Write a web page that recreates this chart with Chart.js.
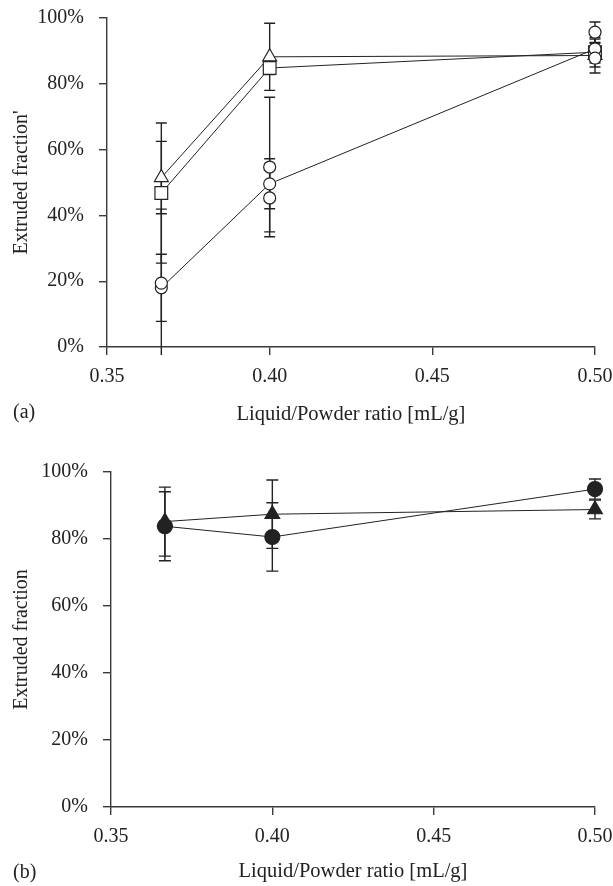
<!DOCTYPE html>
<html>
<head>
<meta charset="utf-8">
<script src="https://cdn.jsdelivr.net/npm/chart.js@4.4.1/dist/chart.umd.min.js"></script>
<style>
  html,body{margin:0;padding:0;background:#fff;}
  #wrapA{position:absolute;left:0;top:0;width:613px;height:440px;}
  #wrapB{position:absolute;left:0;top:440px;width:613px;height:446px;}
</style>
</head>
<body>
<div id="wrapA"><canvas id="chartA" width="613" height="440"></canvas></div>
<div id="wrapB"><canvas id="chartB" width="613" height="446"></canvas></div>
<script>
// ── data: panel (a) ───────────────────────────────────────────────
const xA        = [0.3667, 0.40, 0.50];
const xTicks    = [0.35, 0.40, 0.45, 0.50];
const yTicks    = [0, 20, 40, 60, 80, 100];
const triA      = [51.5, 88.2, 88.6];
const triAErr   = [11.0, 10.2, 2.3];
const sqA       = [46.8, 84.8, 89.6];
const sqAErr    = [21.3, 2.0, 4.5];
const circA     = [18.0, 49.6, 90.6];
const circAErr  = [10.2, 7.6, 3.0];
const circA2    = [19.4, 54.7, 95.7];
const circA2Err = [22.5, 21.2, 3.1];
const circA3    = [null, 45.3, 87.8];
const circA3Err = [null, 10.3, 4.5];

// ── data: panel (b) ───────────────────────────────────────────────
const xB        = [0.3667, 0.40, 0.50];
const circB     = [83.8, 80.6, 94.9];
const circBErr  = [10.3, 10.2, 3.0];
const triB      = [85.2, 87.4, 88.8];
const triBErr   = [10.3, 10.2, 2.8];

const INK='#222', AXIS='#3a3a3a', FONT='"Liberation Serif","DejaVu Serif",serif';

const pts=(xs,ys)=>xs.map((x,i)=>({x,y:ys[i]})).filter(p=>p.y!==null);

// error bars drawn under the markers
const errorBars={
  id:'errorBars',
  beforeDatasetsDraw(chart){
    const {ctx,scales:{x,y}}=chart;
    const y0=y.getPixelForValue(0);
    ctx.save();
    ctx.strokeStyle=INK;ctx.lineWidth=1.4;
    chart.data.datasets.forEach(ds=>{
      if(!ds.err) return;
      ds.xs.forEach((xv,i)=>{
        const v=ds.ys[i],e=ds.err[i];
        if(v===null||e===null) return;
        const px=x.getPixelForValue(xv);
        const lo=v-e,hi=v+e;
        const pLo=lo<0?y0+8:y.getPixelForValue(lo),pHi=y.getPixelForValue(hi);
        const cw=ds.capW||5.5;
        ctx.beginPath();
        ctx.moveTo(px,pLo);ctx.lineTo(px,pHi);
        ctx.moveTo(px-cw,pHi);ctx.lineTo(px+cw,pHi);
        if(lo>=0){ctx.moveTo(px-cw,pLo);ctx.lineTo(px+cw,pLo);}
        ctx.stroke();
      });
    });
    ctx.restore();
  }
};

// panel tag "(a)" / "(b)"
const panelTag={
  id:'panelTag',
  afterDraw(chart,args,opts){
    const ctx=chart.ctx;
    ctx.save();
    ctx.font='20px '+FONT;ctx.fillStyle=INK;
    ctx.textAlign='left';ctx.textBaseline='middle';
    ctx.fillText(opts.text,opts.x,opts.y);
    ctx.restore();
  }
};

function series(xs,ys,err,style,r,fill,showLine,capW){
  return {data:pts(xs,ys),xs,ys,err,capW,showLine,
    borderColor:INK,borderWidth:1,
    pointStyle:style,pointRadius:r,pointHoverRadius:r,
    pointBackgroundColor:fill,pointBorderColor:INK,pointBorderWidth:1.2,
    clip:false,tension:0};
}

function makeOptions(yTitle,yWidth,xHeight,titlePad,pad,tag){
  return {
    responsive:false,animation:false,
    layout:{padding:pad},
    plugins:{legend:{display:false},tooltip:{enabled:false},panelTag:tag},
    scales:{
      x:{type:'linear',min:0.35,max:0.50,
        afterBuildTicks:s=>{s.ticks=xTicks.map(v=>({value:v}));},
        afterFit:s=>{s.height=xHeight;s.paddingLeft=0;s.paddingRight=0;},
        grid:{display:true,drawOnChartArea:false,drawTicks:true,tickLength:8,color:AXIS,lineWidth:1.4},
        border:{display:true,color:AXIS,width:1.4},
        ticks:{color:INK,font:{family:FONT,size:20},padding:10,maxRotation:0,callback:v=>v.toFixed(2)},
        title:{display:true,text:'Liquid/Powder ratio [mL/g]',color:INK,font:{family:FONT,size:20.5},padding:{top:0,bottom:titlePad}}
      },
      y:{min:0,max:100,
        afterBuildTicks:s=>{s.ticks=yTicks.map(v=>({value:v}));},
        afterFit:s=>{s.width=yWidth;s.paddingTop=0;s.paddingBottom=0;},
        grid:{display:true,drawOnChartArea:false,drawTicks:true,tickLength:8,color:AXIS,lineWidth:1.4},
        border:{display:true,color:AXIS,width:1.4},
        ticks:{color:INK,font:{family:FONT,size:20},padding:15,callback:v=>v+'%'},
        title:{display:true,text:yTitle,color:INK,font:{family:FONT,size:20},padding:{top:10,bottom:0}}
      }
    }
  };
}

new Chart(document.getElementById('chartA'),{
  type:'line',
  data:{datasets:[
    series(xA,circA2,circA2Err,'circle',6,'#fff',false),
    series(xA,circA3,circA3Err,'circle',6,'#fff',false),
    series(xA,circA,circAErr,'circle',6,'#fff',true),
    series(xA,sqA,sqAErr,'rect',9,'#fff',true),
    series(xA,triA,triAErr,'triangle',8,'#fff',true)
  ]},
  options:makeOptions("Extruded fraction'",107,93,13,{top:18,right:18,left:0,bottom:0},{text:'(a)',x:13,y:413}),
  plugins:[errorBars,panelTag]
});

new Chart(document.getElementById('chartB'),{
  type:'line',
  data:{datasets:[
    series(xB,circB,circBErr,'circle',7.5,INK,true,6),
    series(xB,triB,triBErr,'triangle',8.5,INK,true,6)
  ]},
  options:makeOptions('Extruded fraction',111,79,2,{top:32,right:18,left:0,bottom:0},{text:'(b)',x:13,y:433}),
  plugins:[errorBars,panelTag]
});
</script>
</body>
</html>
